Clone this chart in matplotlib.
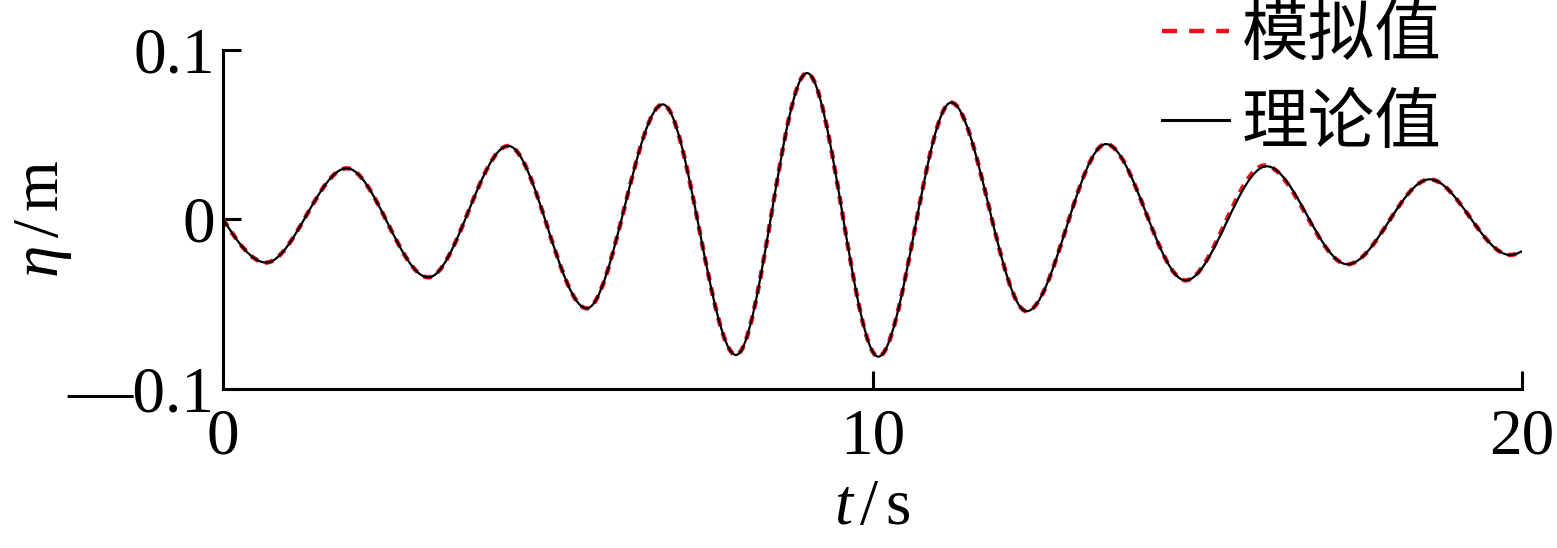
import matplotlib
matplotlib.use('Agg')
import matplotlib.pyplot as plt
from matplotlib.path import Path
from matplotlib.patches import PathPatch
from matplotlib.lines import Line2D
from matplotlib.font_manager import FontProperties
import numpy as np

# ---- data (extrema of the wave record) ----
t_ext = [0.0, 0.662, 1.905, 3.161, 4.393, 5.600, 6.771, 7.898, 8.991, 10.089,
         11.211, 12.374, 13.595, 14.819, 16.069, 17.313, 18.579, 19.815, 20.0]
eta_theory = [0.0, -0.0257, 0.0299, -0.0344, 0.0431, -0.0527, 0.0676, -0.0802,
              0.0861, -0.0812, 0.0687, -0.0544, 0.0442, -0.0362, 0.0311,
              -0.0267, 0.0234, -0.0212, -0.0189]
t_sim = [0.0, 0.662, 1.905, 3.161, 4.393, 5.600, 6.771, 7.898, 8.991, 10.089,
         11.211, 12.374, 13.595, 14.819, 16.040, 17.313, 18.579, 19.815, 20.0]
eta_sim = [0.0, -0.0257, 0.0299, -0.0344, 0.0431, -0.0527, 0.0676, -0.0802,
           0.0861, -0.0812, 0.0687, -0.0544, 0.0442, -0.0362, 0.0316,
           -0.0267, 0.0234, -0.0212, -0.0189]
labels = ['模拟值', '理论值']
xticks = [0, 10, 20]
xticklabels = ['0', '10', '20']
yticks = [-0.1, 0, 0.1]
yticklabels = ['\u20140.1', '0', '0.1']

plt.rcParams['font.family'] = ['Liberation Serif']
plt.rcParams['mathtext.fontset'] = 'custom'
plt.rcParams['mathtext.rm'] = 'Liberation Serif'
plt.rcParams['mathtext.it'] = 'Liberation Serif:italic'


def smooth_path(ts, ys):
    """Smooth curve through the extrema using cubic Bezier segments."""
    verts = [(ts[0], ys[0])]
    codes = [Path.MOVETO]
    n = len(ts)
    for i in range(n - 1):
        ta, ya, tb, yb = ts[i], ys[i], ts[i + 1], ys[i + 1]
        dt = tb - ta
        if i == 0:
            slope = (yb - ya) * np.pi / 2 / dt
            p1 = (ta + dt / 3, ya + slope * dt / 3)
        else:
            p1 = (ta + dt / 3, ya)
        if i == n - 2:
            p2 = (tb - dt / 3, yb - 2 * (yb - ya) / 3)
        else:
            p2 = (tb - dt / 3, yb)
        verts += [p1, p2, (tb, yb)]
        codes += [Path.CURVE4, Path.CURVE4, Path.CURVE4]
    return Path(verts, codes)


W, H = 1557, 548
fig = plt.figure(figsize=(W / 100, H / 100), dpi=100)
ax = fig.add_axes([223 / W, 1 - 388.5 / H, 1299 / W, 339 / H])

sim_patch = PathPatch(smooth_path(t_sim, eta_sim), fill=False, edgecolor='#e8101a',
                      linewidth=3.2, linestyle=(0, (1.9, 1.6)), zorder=2)
th_patch = PathPatch(smooth_path(t_ext, eta_theory), fill=False, edgecolor='black',
                     linewidth=1.6, zorder=3)
ax.add_patch(sim_patch)
ax.add_patch(th_patch)

ax.set_xlim(0, 20)
ax.set_ylim(-0.1, 0.1)
for s in ['top', 'right']:
    ax.spines[s].set_visible(False)
for s in ['left', 'bottom']:
    ax.spines[s].set_linewidth(2.2)

ax.set_xticks(xticks)
ax.set_xticklabels(xticklabels)
ax.set_yticks(yticks)
ax.set_yticklabels(yticklabels)
ax.tick_params(axis='both', direction='in', length=13, width=2.2, labelsize=47)
ax.tick_params(axis='x', pad=14)
ax.tick_params(axis='y', pad=6)

ax.set_xlabel(r'$t\,/\,\mathrm{s}$', fontsize=47)
ax.set_ylabel(r'$\eta\,/\,\mathrm{m}$', fontsize=47)
ax.xaxis.set_label_coords(0.5, -0.265)
ax.yaxis.set_label_coords(-0.115, 0.5)

handles = [Line2D([], [], color='#e8101a', linewidth=3.2, linestyle=(0, (3.4, 2.7))),
           Line2D([], [], color='black', linewidth=2.2)]
leg = ax.legend(handles, labels, loc='upper left',
                bbox_to_anchor=(1162 / W, 1 - 2 / H), bbox_transform=fig.transFigure,
                frameon=False, borderpad=0, borderaxespad=0,
                handlelength=1.0, handletextpad=0.2, labelspacing=0.32,
                prop=FontProperties(family=['Noto Sans CJK SC'], size=48))

fig.savefig('out.png', dpi=100)
